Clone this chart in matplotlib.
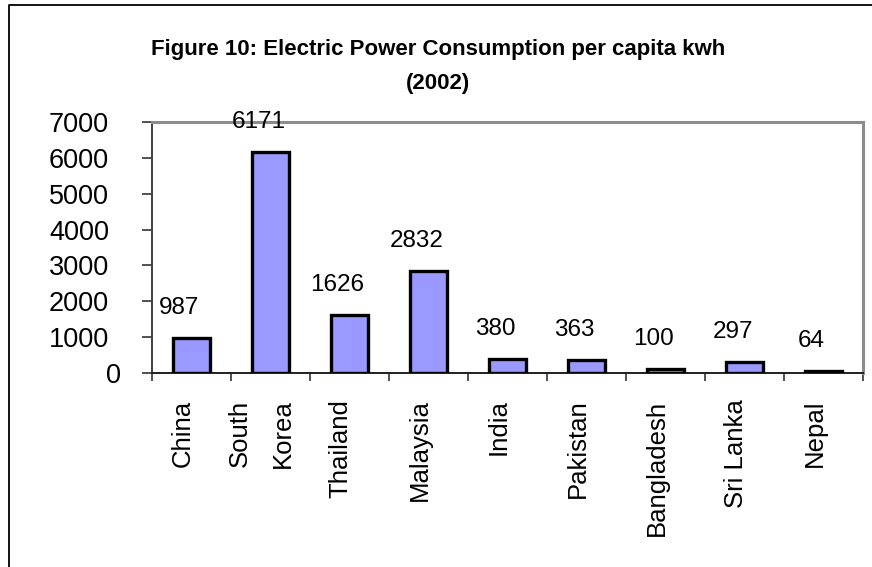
import matplotlib
matplotlib.use("Agg")
import matplotlib.pyplot as plt
from matplotlib.lines import Line2D
from matplotlib.transforms import ScaledTranslation

plt.rcParams['font.family'] = ['Liberation Sans', 'DejaVu Sans']

countries = ["China", "South\nKorea", "Thailand", "Malaysia", "India",
             "Pakistan", "Bangladesh", "Sri Lanka", "Nepal"]
consumption = [987, 6171, 1626, 2832, 380, 363, 100, 297, 64]
y_ticks = [0, 1000, 2000, 3000, 4000, 5000, 6000, 7000]
title_lines = ["Figure 10: Electric Power Consumption per capita kwh", "(2002)"]

W, H = 872, 567
fig = plt.figure(figsize=(W / 100, H / 100), dpi=100)
ax = fig.add_axes([152 / W, 1 - 373 / H, (863 - 152) / W, (373 - 122) / H])

x = list(range(len(countries)))
ax.bar(x, consumption, width=0.46, color="#9999FF", edgecolor="black",
       linewidth=2.4, zorder=3)

for xi, v in zip(x, consumption):
    ax.annotate(str(v), xy=(xi, v), xytext=(-8.6, 17.3), textcoords="offset points",
                ha="center", va="baseline", fontsize=17.5, color="black",
                annotation_clip=False, zorder=4)

ax.set_xlim(-0.5, len(countries) - 0.5)
ax.set_ylim(0, 7000)
ax.set_yticks(y_ticks)
ax.set_yticklabels([str(t) for t in y_ticks], fontsize=19.5)
ax.tick_params(axis="y", direction="out", length=7, width=1.2, color="#333333", pad=24)
# the single-digit zero label sits a little further right
zero_shift = ScaledTranslation(12 / 100, 0, fig.dpi_scale_trans)
ylabs = ax.get_yticklabels()
ylabs[0].set_transform(ylabs[0].get_transform() + zero_shift)

# category boundaries carry the tick marks; labels sit at bar centres
ax.set_xticks([i - 0.5 for i in range(len(countries) + 1)], minor=True)
ax.tick_params(axis="x", which="minor", direction="out", length=5.5, width=1.2, color="#333333")
ax.set_xticks(x)
ax.set_xticklabels(countries, rotation=90, fontsize=18.5)
ax.tick_params(axis="x", which="major", length=0, pad=19)
shift = ScaledTranslation(-9 / 100, 0, fig.dpi_scale_trans)
for lab in ax.get_xticklabels():
    lab.set_transform(lab.get_transform() + shift)
    if "\n" in lab.get_text():
        lab.set_linespacing(2.03)

ax.spines["left"].set_color("#404040")
ax.spines["left"].set_linewidth(1.4)
ax.spines["bottom"].set_color("#202020")
ax.spines["bottom"].set_linewidth(1.4)
for side in ("top", "right"):
    ax.spines[side].set_color("#8c8c8c")
    ax.spines[side].set_linewidth(2.2)

fig.text(438 / W, 1 - 49 / H, title_lines[0], ha="center", va="center",
         fontsize=16, fontweight="bold")
fig.text(438 / W, 1 - 83 / H, title_lines[1], ha="center", va="center",
         fontsize=16, fontweight="bold")

# outer chart frame (left and top edges)
fig.add_artist(Line2D([8.5 / W, 8.5 / W, 1.0], [0.0, 1 - 5 / H, 1 - 5 / H],
                      transform=fig.transFigure, color="black", linewidth=1.3))

fig.savefig("out.png", dpi=100)
